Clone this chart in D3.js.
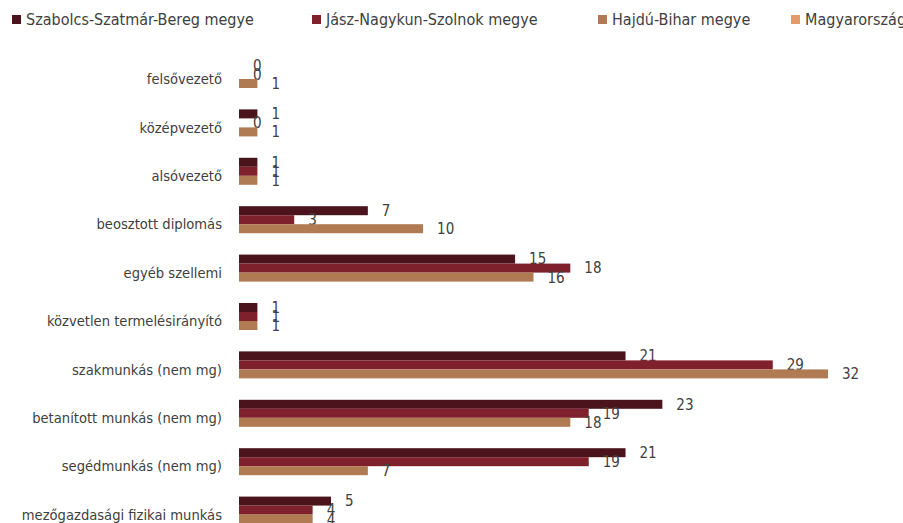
<!DOCTYPE html>
<html>
<head>
<meta charset="utf-8">
<script src="https://cdn.jsdelivr.net/npm/d3@7"></script>
<style>
  html, body { margin: 0; padding: 0; background: #fff; overflow: hidden; }
  svg { display: block; font-family: "DejaVu Sans Condensed", "DejaVu Sans", sans-serif; }
</style>
</head>
<body>
<svg id="chart" width="903" height="523"></svg>
<script>
const categories = [
  "felsővezető", "középvezető", "alsóvezető", "beosztott diplomás",
  "egyéb szellemi", "közvetlen termelésirányító", "szakmunkás (nem mg)",
  "betanított munkás (nem mg)", "segédmunkás (nem mg)", "mezőgazdasági fizikai munkás"
];
const seriesNames = ["Szabolcs-Szatmár-Bereg megye", "Jász-Nagykun-Szolnok megye", "Hajdú-Bihar megye", "Magyarország"];
const szabolcs = [0, 1, 1, 7, 15, 1, 21, 23, 21, 5];
const jasz     = [0, 0, 1, 3, 18, 1, 29, 19, 19, 4];
const hajdu    = [1, 1, 1, 10, 16, 1, 32, 18, 7, 4];
const magyarorszag = [null, null, null, null, null, null, null, null, null, null];
const colors = ["#4b141c", "#7e212d", "#b07a53", "#e39b68"];

const seriesValues = [szabolcs, jasz, hajdu, magyarorszag];
const svg = d3.select("#chart");

const x = d3.scaleLinear().domain([0, 32]).range([239, 828]);
const y = d3.scaleBand().domain(categories).range([54.8, 538.8]).paddingInner(0.256).paddingOuter(0.128);
const ys = d3.scaleBand().domain(seriesNames).range([0, y.bandwidth()]);

// Legend
const legendX = [12, 312, 598, 791];
const leg = svg.append("g");
seriesNames.forEach((s, i) => {
  const g = leg.append("g").attr("transform", `translate(${legendX[i]},0)`);
  g.append("rect").attr("x", 0).attr("y", 15).attr("width", 9).attr("height", 9).attr("fill", colors[i]);
  g.append("text").attr("x", 14).attr("y", 24.5).attr("font-size", 16).attr("fill", "#404040").text(s);
});

// Category labels
svg.append("g").selectAll("text").data(categories).join("text")
  .attr("x", 222)
  .attr("y", d => y(d) + y.bandwidth() / 2)
  .attr("dy", "0.35em")
  .attr("text-anchor", "end")
  .attr("font-size", 14.6)
  .attr("fill", "#404040")
  .text(d => d);

// Bars
seriesValues.forEach((vals, si) => {
  const data = categories.map((c, i) => ({c, v: vals[i]})).filter(d => d.v !== null);
  const g = svg.append("g");
  g.selectAll("rect").data(data).join("rect")
    .attr("x", x(0))
    .attr("y", d => y(d.c) + ys(seriesNames[si]))
    .attr("width", d => x(d.v) - x(0))
    .attr("height", ys.bandwidth())
    .attr("fill", colors[si]);
  g.selectAll("text").data(data).join("text")
    .attr("x", d => x(d.v) + 14)
    .attr("y", d => y(d.c) + ys(seriesNames[si]) + ys.bandwidth() / 2)
    .attr("dy", "0.36em")
    .attr("font-size", 15)
    .attr("fill", "#404040")
    .text(d => d.v);
});
</script>
</body>
</html>
